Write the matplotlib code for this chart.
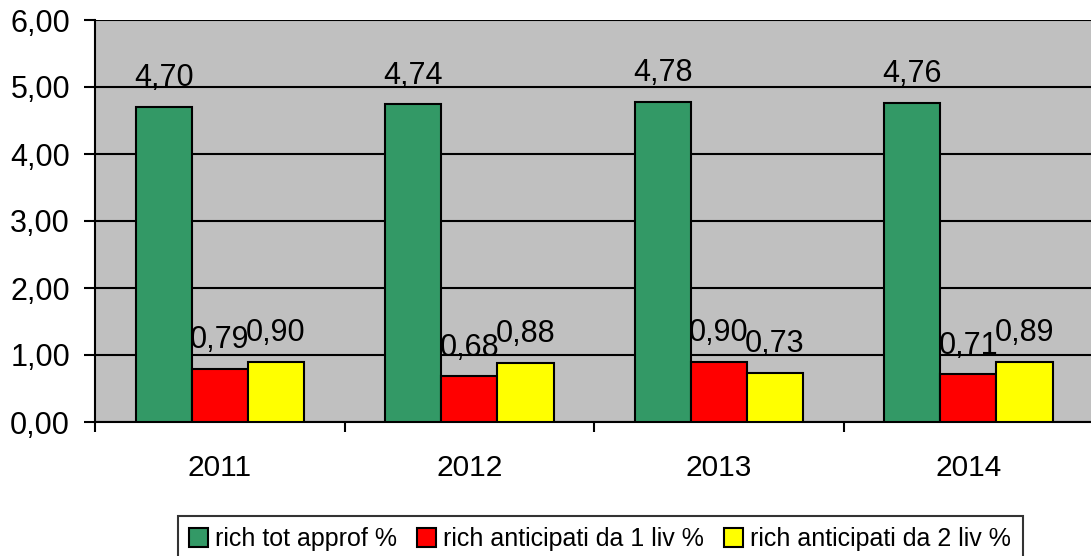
import matplotlib
matplotlib.use("Agg")
import matplotlib.pyplot as plt
import numpy as np

years = ["2011", "2012", "2013", "2014"]
tot_approf = [4.70, 4.74, 4.78, 4.76]
ant_1liv = [0.79, 0.68, 0.90, 0.71]
ant_2liv = [0.90, 0.88, 0.73, 0.89]
series_names = ["rich tot approf %", "rich anticipati da 1 liv %", "rich anticipati da 2 liv %"]
colors = ["#339966", "#FF0000", "#FFFF00"]

plt.rcParams['font.family'] = ['Liberation Sans', 'DejaVu Sans']

fig = plt.figure(figsize=(10.91, 5.56), dpi=100)
ax = fig.add_axes([95/1091, 134/556, 1 - 95/1091 + 0.002, 402/556])
ax.set_facecolor("#C0C0C0")

x = np.arange(len(years))
w = 0.225
data = [tot_approf, ant_1liv, ant_2liv]
for i, (vals, c, name) in enumerate(zip(data, colors, series_names)):
    bars = ax.bar(x + (i - 1) * w, vals, w, color=c, edgecolor="black", linewidth=1.5, label=name, zorder=3)
    for b, v in zip(bars, vals):
        ax.annotate(f"{v:.2f}".replace(".", ","), (b.get_x() + b.get_width()/2, v),
                    xytext=(0, 10), textcoords="offset points", ha="center", va="bottom",
                    fontsize=22, zorder=4)

ax.set_ylim(0, 6)
ax.set_xlim(-0.5, 3.5)
ax.set_yticks(range(7))
ax.set_yticklabels([f"{v:.2f}".replace(".", ",") for v in range(7)], fontsize=22)
ax.yaxis.grid(True, color="black", linewidth=1.5, zorder=1)
ax.set_axisbelow(True)
ax.set_xticks(x)
ax.set_xticklabels(years, fontsize=21.5)
ax.set_xticks(np.arange(-0.5, 3.5, 1), minor=True)
ax.tick_params(axis="x", which="major", length=0, pad=23)
ax.tick_params(axis="x", which="minor", length=7, width=1.5, direction="out")
ax.tick_params(axis="y", length=8, width=1.5, direction="out", pad=10)
for s in ["top", "right"]:
    ax.spines[s].set_visible(False)
for s in ["left", "bottom"]:
    ax.spines[s].set_linewidth(1.5)

leg = fig.legend(loc="upper center", bbox_to_anchor=(600/1091, 40/556), ncol=3, frameon=True,
                 fancybox=False, edgecolor="black", prop={'size': 18},
                 handlelength=0.75, handleheight=0.75, handletextpad=0.3, columnspacing=0.8,
                 borderpad=0.45, borderaxespad=0)
leg.get_frame().set_linewidth(1.5)

fig.savefig("out.png", dpi=100)
